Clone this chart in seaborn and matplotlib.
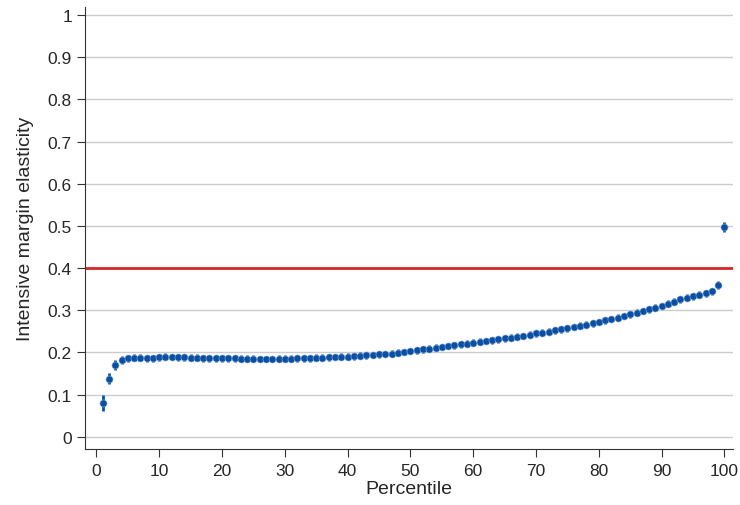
import numpy as np
import pandas as pd
import matplotlib
matplotlib.use("Agg")
import matplotlib.pyplot as plt
import seaborn as sns

percentile = list(range(1, 101))
elasticity = [
    0.080, 0.138, 0.170, 0.182, 0.186, 0.187, 0.187, 0.186, 0.186, 0.188,
    0.190, 0.189, 0.188, 0.188, 0.187, 0.187, 0.186, 0.186, 0.186, 0.186,
    0.186, 0.186, 0.185, 0.185, 0.185, 0.184, 0.184, 0.184, 0.185, 0.185,
    0.185, 0.186, 0.186, 0.186, 0.187, 0.187, 0.188, 0.189, 0.190, 0.190,
    0.191, 0.192, 0.193, 0.194, 0.195, 0.196, 0.197, 0.199, 0.201, 0.203,
    0.205, 0.207, 0.209, 0.211, 0.213, 0.215, 0.217, 0.219, 0.221, 0.223,
    0.225, 0.227, 0.229, 0.231, 0.233, 0.235, 0.237, 0.239, 0.242, 0.245,
    0.247, 0.249, 0.252, 0.255, 0.257, 0.260, 0.263, 0.266, 0.269, 0.272,
    0.276, 0.279, 0.282, 0.286, 0.290, 0.294, 0.298, 0.302, 0.306, 0.310,
    0.315, 0.320, 0.326, 0.330, 0.333, 0.337, 0.340, 0.345, 0.360, 0.497,
]
err = [0.020, 0.014, 0.012, 0.010] + [0.008] * 94 + [0.010, 0.012]

df = pd.DataFrame({"percentile": percentile, "elasticity": elasticity, "err": err})

sns.set_style("white")
plt.rcParams["font.family"] = ["Liberation Sans", "DejaVu Sans"]
fig, ax = plt.subplots(figsize=(7.4, 5.06), dpi=100)
fig.subplots_adjust(left=0.115, right=0.99, bottom=0.11, top=0.985)

for y in np.arange(0, 1.01, 0.1):
    ax.axhline(y, color="#cccccc", lw=1, zorder=0)
ax.axhline(0.4, color="#d62728", lw=2, zorder=1)

ax.errorbar(df["percentile"], df["elasticity"], yerr=df["err"], fmt="none",
            ecolor="#0b4fa3", elinewidth=2, zorder=2)
sns.scatterplot(data=df, x="percentile", y="elasticity", ax=ax, color="#0b4fa3",
                s=26, edgecolor="#8fb3dd", linewidth=0.4, zorder=3)

ax.set_xlim(-1.8, 101.3)
ax.set_ylim(-0.03, 1.02)
ax.set_xticks(range(0, 101, 10))
ax.set_yticks(np.round(np.arange(0, 1.01, 0.1), 1))
ax.set_yticklabels(["0", "0.1", "0.2", "0.3", "0.4", "0.5", "0.6", "0.7", "0.8", "0.9", "1"])
ax.set_xlabel("Percentile", fontsize=14, labelpad=2)
ax.set_ylabel("Intensive margin elasticity", fontsize=14, labelpad=10)
ax.tick_params(labelsize=12.5, direction="out", length=6, left=True, bottom=True, color="#333333")
for s in ["top", "right"]:
    ax.spines[s].set_visible(False)
for s in ["left", "bottom"]:
    ax.spines[s].set_color("#333333")

fig.savefig("out.png")
